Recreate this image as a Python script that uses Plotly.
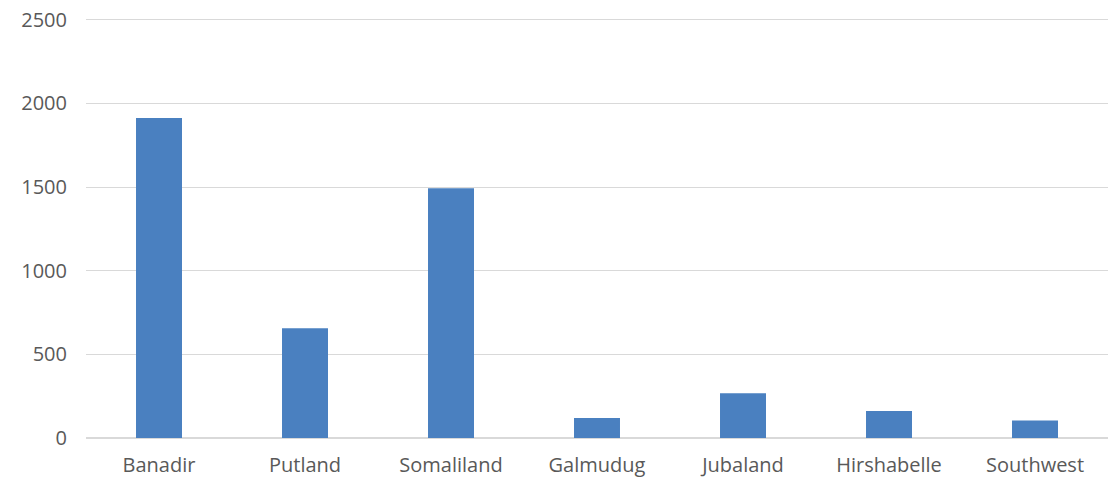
import plotly.graph_objects as go

regions = ["Banadir", "Putland", "Somaliland", "Galmudug", "Jubaland", "Hirshabelle", "Southwest"]
counts = [1912, 656, 1492, 120, 267, 162, 105]
y_ticks = [0, 500, 1000, 1500, 2000, 2500]

fig = go.Figure()
fig.add_trace(go.Bar(x=regions, y=counts, marker=dict(color="#4a80c0", line=dict(width=0)), width=0.315))

fig.update_layout(
    width=1110, height=477,
    margin=dict(l=86, r=2, t=18, b=39, autoexpand=False),
    paper_bgcolor="white", plot_bgcolor="white",
    font=dict(family="Open Sans", size=20, color="#595959"),
    showlegend=False,
)
fig.update_xaxes(showgrid=False, showline=False, ticks="", ticklabelstandoff=13, automargin=False)
fig.update_yaxes(range=[0, 2510], tickvals=y_ticks, showgrid=True, gridcolor="#d9d9d9", gridwidth=1,
                 zeroline=True, zerolinecolor="#d9d9d9", zerolinewidth=2, showline=False, ticks="",
                 ticklabelstandoff=18, automargin=False)

# drop the default 8px body margin so the chart sits flush in the window
fig.write_html("out.html", config={"displayModeBar": False},
               post_script="document.body.style.margin='0';")
